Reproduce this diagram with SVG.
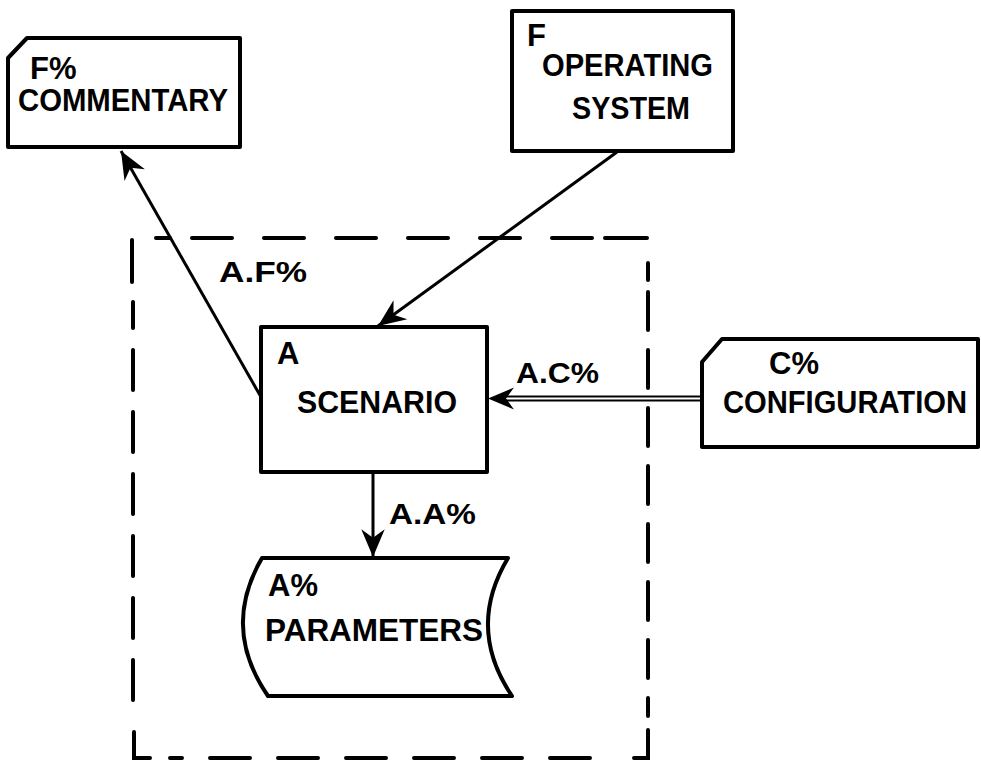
<svg xmlns="http://www.w3.org/2000/svg" width="981" height="762" viewBox="0 0 981 762">
<style>
.box{fill:#fff;stroke:#000;stroke-width:4;stroke-linejoin:round}
.t{font-family:"Liberation Sans",Arial,sans-serif;font-weight:bold;fill:#000}
.big{font-size:31px}
.lbl{font-size:29px}
.con{stroke:#000;stroke-width:3;fill:none}
.dash{fill:none;stroke:#000;stroke-width:4;stroke-dasharray:42 26;stroke-linecap:round}
</style>
<defs>
<marker id="arr" markerUnits="userSpaceOnUse" markerWidth="32" markerHeight="32" viewBox="-28 -13 30 26" refX="0" refY="0" orient="auto">
<path d="M0,0 L-26,-11 L-18,0 L-26,11 Z" fill="#000"/>
</marker>
</defs>
<g id="boundary">
<path class="dash" d="M132,282 L132,238 L170,238"/>
<path class="dash" d="M192,238 L605,238" style="stroke-dasharray:40 32"/>
<path class="dash" d="M605,238 L648,238 L648,280"/>
<path class="dash" d="M648,292 L648,716" style="stroke-dasharray:38 20"/>
<path class="dash" d="M648,730 L648,758 L612,758"/>
<path class="dash" d="M590,758 L170,758" style="stroke-dasharray:40 28"/>
<path class="dash" d="M150,758 L134,758 L134,720"/>
<path class="dash" d="M133,700 L133,302" style="stroke-dasharray:40 22"/>
</g>
<g id="connectors">
<line class="con" x1="261" y1="397" x2="121" y2="151" marker-end="url(#arr)"/>
<line class="con" x1="617" y1="152" x2="378" y2="326" marker-end="url(#arr)"/>
<line x1="702" y1="396.5" x2="500" y2="396.5" stroke="#000" stroke-width="1.8"/>
<line x1="702" y1="400.5" x2="500" y2="400.5" stroke="#000" stroke-width="1.8"/>
<path d="M488,398.5 L514,387.5 L506,398.5 L514,409.5 Z" fill="#000"/>
<line class="con" x1="373" y1="472" x2="373" y2="557" marker-end="url(#arr)"/>
<text class="t lbl" x="219" y="282" textLength="88" lengthAdjust="spacingAndGlyphs">A.F%</text>
<text class="t lbl" x="516" y="383" textLength="83" lengthAdjust="spacingAndGlyphs">A.C%</text>
<text class="t lbl" x="389" y="524" textLength="87" lengthAdjust="spacingAndGlyphs">A.A%</text>
</g>
<g id="commentary">
<path class="box" d="M27,38 L240,38 L240,147 L8,147 L8,58 Z"/>
<text class="t big" x="30" y="79">F%</text>
<text class="t big" x="18" y="111" textLength="210" lengthAdjust="spacingAndGlyphs">COMMENTARY</text>
</g>
<g id="operating-system">
<rect class="box" x="512" y="11" width="221" height="140"/>
<text class="t big" x="527" y="46">F</text>
<text class="t big" x="542" y="76" textLength="171" lengthAdjust="spacingAndGlyphs">OPERATING</text>
<text class="t big" x="572" y="119" textLength="118" lengthAdjust="spacingAndGlyphs">SYSTEM</text>
</g>
<g id="scenario">
<rect class="box" x="261" y="327" width="226" height="145"/>
<text class="t big" x="277" y="364">A</text>
<text class="t big" x="297" y="413" textLength="160" lengthAdjust="spacingAndGlyphs">SCENARIO</text>
</g>
<g id="configuration">
<path class="box" d="M722,339 L978,339 L978,447 L702,447 L702,362 Z"/>
<text class="t big" x="769" y="374">C%</text>
<text class="t big" x="723" y="413" textLength="244" lengthAdjust="spacingAndGlyphs">CONFIGURATION</text>
</g>
<g id="parameters">
<path class="box" d="M262,558 L508,558 Q466,628 512,696 L268,696 Q221,628 262,558 Z"/>
<text class="t big" x="268" y="596">A%</text>
<text class="t big" x="265" y="641" textLength="218" lengthAdjust="spacingAndGlyphs">PARAMETERS</text>
</g>
</svg>
